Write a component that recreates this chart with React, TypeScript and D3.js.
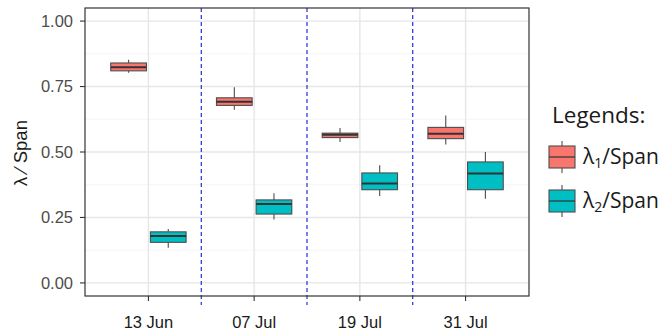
import * as d3 from 'd3'

const dates = ['13 Jun', '07 Jul', '19 Jul', '31 Jul']
const seriesNames = ['λ1', 'λ2']
const seriesColors = ['#F8766D', '#00BFC4']
const yTicks = [0, 0.25, 0.5, 0.75, 1]
const yMinor = [0.125, 0.375, 0.625, 0.875]

// [whiskerLow, q1, median, q3, whiskerHigh]
const lambda1 = [
  [0.803, 0.81, 0.824, 0.84, 0.852],
  [0.661, 0.678, 0.692, 0.707, 0.747],
  [0.538, 0.555, 0.566, 0.572, 0.592],
  [0.529, 0.551, 0.57, 0.594, 0.639],
]
const lambda2 = [
  [0.134, 0.155, 0.179, 0.195, 0.206],
  [0.242, 0.263, 0.301, 0.317, 0.342],
  [0.332, 0.356, 0.38, 0.42, 0.449],
  [0.321, 0.356, 0.418, 0.462, 0.5],
]
const series = [lambda1, lambda2]

const W = 666
const H = 336
const left = 85
const right = 529
const top = 8
const bottom = 296

export default function App() {
  const x = d3.scaleLinear().domain([0.4, 4.6]).range([left, right])
  const y = d3.scaleLinear().domain([-0.05, 1.05]).range([bottom, top])
  const unit = x(1) - x(0)
  const boxW = 0.375 * 0.9 * unit
  const offsets = [-0.1875, 0.1875]

  return (
    <svg width={W} height={H} style={{ position: 'absolute', left: 0, top: 0 }}
      fontFamily="'Liberation Sans', Arial, sans-serif">
      <rect x={0} y={0} width={W} height={H} fill="#fff" />
      {yMinor.map((t) => (
        <line key={'m' + t} x1={left} x2={right} y1={y(t)} y2={y(t)} stroke="#f2f2f2" strokeWidth={0.8} />
      ))}
      {yTicks.map((t) => (
        <line key={'g' + t} x1={left} x2={right} y1={y(t)} y2={y(t)} stroke="#e6e6e6" strokeWidth={1.4} />
      ))}
      {dates.map((d, i) => (
        <line key={'v' + d} x1={x(i + 1)} x2={x(i + 1)} y1={top} y2={bottom} stroke="#e6e6e6" strokeWidth={1.4} />
      ))}
      {series.map((s, si) =>
        s.map((v, i) => {
          const cx = x(i + 1) + offsets[si] * unit
          return (
            <g key={si + '-' + i}>
              <line x1={cx} x2={cx} y1={y(v[4])} y2={y(v[3])} stroke="#4d4d4d" strokeWidth={1.1} />
              <line x1={cx} x2={cx} y1={y(v[1])} y2={y(v[0])} stroke="#4d4d4d" strokeWidth={1.1} />
              <rect x={cx - boxW / 2} y={y(v[3])} width={boxW} height={y(v[1]) - y(v[3])}
                fill={seriesColors[si]} stroke="#4d4d4d" strokeWidth={1.1} />
              <line x1={cx - boxW / 2} x2={cx + boxW / 2} y1={y(v[2])} y2={y(v[2])} stroke="#333" strokeWidth={2} />
            </g>
          )
        })
      )}
      {[1.5, 2.5, 3.5].map((p) => (
        <line key={'d' + p} x1={x(p)} x2={x(p)} y1={top} y2={305} stroke="#2a2ae0" strokeWidth={1.2} strokeDasharray="4,3" />
      ))}
      <rect x={left} y={top} width={right - left} height={bottom - top} fill="none" stroke="#333" strokeWidth={1.2} />
      {yTicks.map((t) => (
        <g key={'yt' + t}>
          <line x1={left - 5} x2={left} y1={y(t)} y2={y(t)} stroke="#333" strokeWidth={1.1} />
          <text x={left - 12} y={y(t)} dy="0.36em" textAnchor="end" fontSize={16.5} fill="#4d4d4d">{t.toFixed(2)}</text>
        </g>
      ))}
      {dates.map((d, i) => (
        <g key={'xt' + d}>
          <line x1={x(i + 1)} x2={x(i + 1)} y1={bottom} y2={bottom + 5} stroke="#333" strokeWidth={1.1} />
          <text x={x(i + 1)} y={328} textAnchor="middle" fontSize={16.5} fill="#1a1a1a">{d}</text>
        </g>
      ))}
      <text transform={`translate(27,${153}) rotate(-90)`} textAnchor="middle" fontSize={18.5} fill="#1a1a1a">λ ⁄ Span</text>
      <g fontFamily="'Open Sans', Lato, sans-serif">
        <text x={552} y={123} fontSize={22.5} fill="#1a1a1a">Legends:</text>
        {seriesNames.map((n, i) => {
          const cy = 157 + i * 44
          const cx = 562
          return (
            <g key={'l' + n}>
              <line x1={cx} x2={cx} y1={cy - 16} y2={cy + 16} stroke="#4d4d4d" strokeWidth={1.1} />
              <rect x={cx - 13} y={cy - 11} width={26} height={22} fill={seriesColors[i]} stroke="#4d4d4d" strokeWidth={1.1} />
              <line x1={cx - 13} x2={cx + 13} y1={cy} y2={cy} stroke="#333" strokeWidth={1.2} />
              <text x={583} y={cy + 7} fontSize={21} fill="#1a1a1a">
                {n.slice(0, 1)}
                <tspan fontSize={14} dy={4}>{n.slice(1)}</tspan>
                <tspan dy={-4}>/Span</tspan>
              </text>
            </g>
          )
        })}
      </g>
    </svg>
  )
}
